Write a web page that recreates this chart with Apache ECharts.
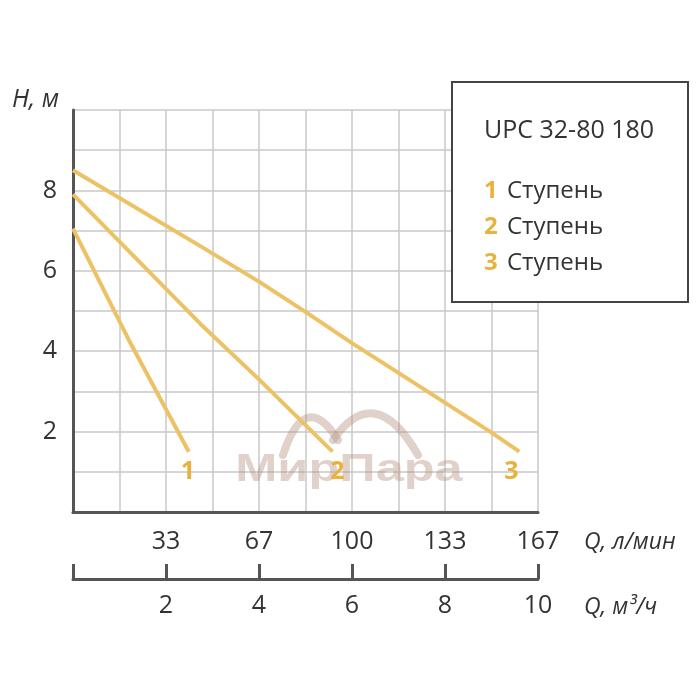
<!DOCTYPE html>
<html>
<head>
<meta charset="utf-8">
<script src="https://cdn.jsdelivr.net/npm/echarts@6/dist/echarts.min.js"></script>
<style>html,body{margin:0;padding:0;background:#fff;}#c{width:700px;height:700px;}</style>
</head>
<body>
<div id="c"></div>
<script>
// ---- data ----
const title = 'UPC 32-80 180';
const stageIds = ['1', '2', '3'];
const stageWord = 'Ступень';
// Q in m3/h, H in m
const stage1 = [[0, 7.05], [1.2, 4.28], [2.49, 1.5]];
const stage2 = [[0, 7.9], [2, 5.55], [2.73, 4.69], [4, 3.3], [5.58, 1.5]];
const stage3 = [[0, 8.5], [2.73, 6.62], [4, 5.73], [5, 4.98], [6, 4.2], [7, 3.46], [8.97, 2.0], [9.6, 1.5]];
const hTickLabels = [2, 4, 6, 8];
const qM3hTicks = [2, 4, 6, 8, 10];
const qLminLabels = ['33', '67', '100', '133', '167'];
const hName = 'H, м';
const qLminName = 'Q, л/мин';
const qM3hName = 'Q, м³/ч';

const FONT = 'Open Sans';
const TXT = '#333';
const AX = '#555';
const GRIDC = '#c9c9c9';
const LINEC = '#ecc265';
const NUMC = '#e9b23c';

const chart = echarts.init(document.getElementById('c'), null, {renderer: 'canvas'});
const stages = [stage1, stage2, stage3];
const labelOffsets = [[-1, 0], [5, 0], [-8, 0]];

const series = stages.map((d, i) => ({
  type: 'line',
  name: stageIds[i],
  data: d,
  symbol: 'circle',
  symbolSize: 0.1,
  showSymbol: true,
  lineStyle: {color: LINEC, width: 4},
  itemStyle: {color: LINEC},
  z: 5,
  label: {
    show: true,
    position: 'bottom',
    distance: 8,
    offset: labelOffsets[i],
    color: NUMC,
    fontFamily: FONT,
    fontWeight: 'bold',
    fontSize: 25,
    formatter: p => (p.dataIndex === d.length - 1 ? stageIds[i] : '')
  },
  emphasis: {disabled: true}
}));

const legendTexts = stageIds.map((id, i) => ({
  type: 'text',
  left: 484,
  top: 179 + i * 36,
  z: 101,
  style: {
    text: '{n|' + id + '}{t|' + stageWord + '}',
    rich: {
      n: {fill: NUMC, fontFamily: FONT, fontSize: 24, fontWeight: 'bold', width: 23},
      t: {fill: TXT, fontFamily: FONT, fontSize: 24}
    }
  }
}));

const wm = 'rgba(180,148,130,0.42)';

chart.setOption({
  animation: false,
  grid: {left: 73, right: 162, top: 110, bottom: 188},
  xAxis: [
    {
      type: 'value', min: 0, max: 10, interval: 1,
      axisLine: {show: true, onZero: false, lineStyle: {color: AX, width: 3}},
      axisTick: {show: false},
      splitLine: {show: true, lineStyle: {color: GRIDC, width: 1.5}},
      axisLabel: {
        margin: 17, color: TXT, fontFamily: FONT, fontSize: 25,
        formatter: v => { const k = qM3hTicks.indexOf(v); return k >= 0 ? qLminLabels[k] : ''; }
      },
      name: qLminName, nameLocation: 'end', nameGap: 46,
      nameTextStyle: {color: TXT, fontFamily: FONT, fontSize: 23, fontStyle: 'italic', align: 'left', verticalAlign: 'top', padding: [19, 0, 0, 0]}
    },
    {
      type: 'value', min: 0, max: 10, interval: 2, position: 'bottom', offset: 67,
      axisLine: {show: true, onZero: false, lineStyle: {color: AX, width: 3}},
      axisTick: {show: true, inside: true, length: 15, lineStyle: {color: AX, width: 3}},
      splitLine: {show: false},
      axisLabel: {
        margin: 14, color: TXT, fontFamily: FONT, fontSize: 25,
        formatter: v => (qM3hTicks.indexOf(v) >= 0 ? String(v) : '')
      },
      name: qM3hName, nameLocation: 'end', nameGap: 46,
      nameTextStyle: {color: TXT, fontFamily: FONT, fontSize: 23, fontStyle: 'italic', align: 'left', verticalAlign: 'top', padding: [17, 0, 0, 0]}
    }
  ],
  yAxis: {
    type: 'value', min: 0, max: 10, interval: 1,
    axisLine: {show: true, onZero: false, lineStyle: {color: AX, width: 3}},
    axisTick: {show: false},
    splitLine: {show: true, lineStyle: {color: GRIDC, width: 1.5}},
    axisLabel: {
      margin: 16, color: TXT, fontFamily: FONT, fontSize: 25,
      formatter: v => (hTickLabels.indexOf(v) >= 0 ? String(v) : '')
    },
    name: hName, nameLocation: 'end', nameGap: 10,
    nameTextStyle: {color: TXT, fontFamily: FONT, fontSize: 25, fontStyle: 'italic', align: 'right', verticalAlign: 'middle', padding: [0, 14, 0, 0]}
  },
  graphic: [
    {type: 'bezierCurve', z: 3, silent: true, shape: {x1: 283, y1: 455, x2: 338, y2: 440, cpx1: 305, cpy1: 388}, style: {stroke: wm, lineWidth: 8, fill: null, lineCap: 'round'}},
    {type: 'bezierCurve', z: 3, silent: true, shape: {x1: 333, y1: 440, x2: 418, y2: 455, cpx1: 375, cpy1: 380}, style: {stroke: wm, lineWidth: 8, fill: null, lineCap: 'round'}},
    {type: 'text', z: 3, silent: true, x: 349, y: 471, scaleX: 1.33, originX: 0, originY: 0,
      style: {text: 'МирПара', fill: wm, font: 'bold 38px "Liberation Sans"', align: 'center', verticalAlign: 'middle'}},
    {
      type: 'rect', z: 100,
      shape: {x: 452, y: 82, width: 236, height: 220},
      style: {fill: '#fff', stroke: '#444', lineWidth: 2}
    },
    {
      type: 'text', left: 484, top: 118, z: 101,
      style: {text: title, fill: TXT, fontFamily: FONT, fontSize: 25}
    }
  ].concat(legendTexts),
  series: series
});
</script>
</body>
</html>
